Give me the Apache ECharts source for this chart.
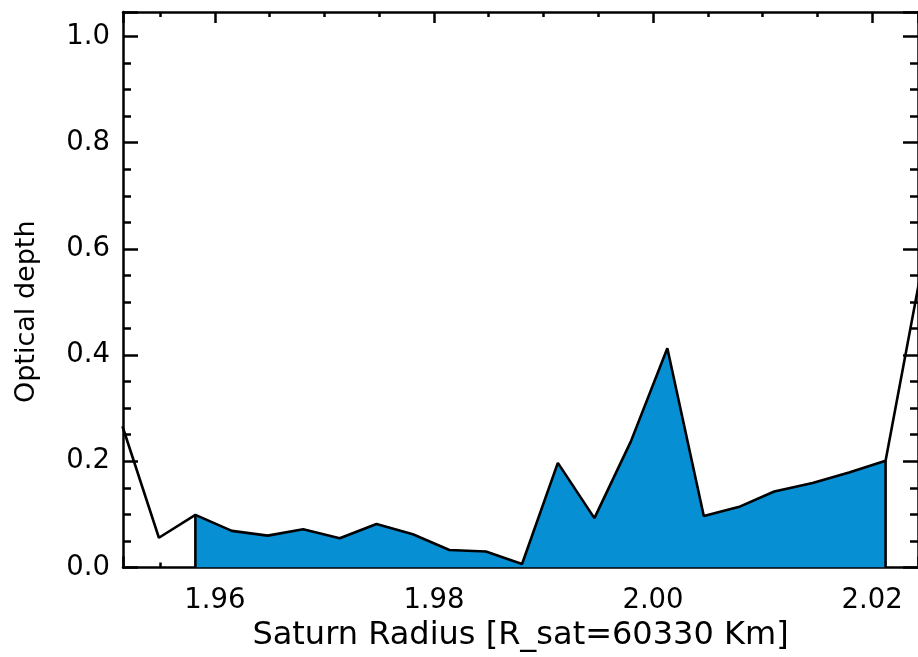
<!DOCTYPE html>
<html>
<head>
<meta charset="utf-8">
<script src="https://cdn.jsdelivr.net/npm/echarts@6/dist/echarts.min.js"></script>
<style>
html,body{margin:0;padding:0;background:#fff;}
#main{width:918px;height:657px;}
</style>
</head>
<body>
<div id="main"></div>
<script>
// radius values (Saturn radii)
var radius = [1.95155, 1.95488, 1.95821, 1.96154, 1.96481, 1.96805, 1.97139, 1.97475, 1.97807,
              1.98141, 1.98474, 1.98804, 1.99131, 1.99465, 1.99797, 2.00131, 2.00464, 2.00797,
              2.01107, 2.01457, 2.01790, 2.02124, 2.02456];
// optical depth
var depth = [0.266, 0.056, 0.099, 0.069, 0.060, 0.072, 0.055, 0.082, 0.0625,
             0.033, 0.030, 0.0066, 0.197, 0.093, 0.237, 0.413, 0.097, 0.115,
             0.143, 0.159, 0.179, 0.201, 0.566];
// shaded range (index of first and last filled point)
var fillStart = 2, fillEnd = 21;

var xTitle = 'Saturn Radius [R_sat=60330 Km]';
var yTitle = 'Optical depth';

var font = 'DejaVu Sans';

var lineData = radius.map(function(r, i){ return [r, depth[i]]; });
var fillData = lineData.slice(fillStart, fillEnd + 1);
var edgeData = [
    [radius[fillStart], 0], [radius[fillStart], depth[fillStart]], '-',
    [radius[fillEnd], 0], [radius[fillEnd], depth[fillEnd]]
];

function xAxisCfg(pos, labels){
    return {
        type:'value',
        position:pos,
        min:1.9516,
        max:2.0242,
        splitNumber:3,
        axisLine:{show:true,onZero:false,lineStyle:{color:'#000',width:2.5}},
        axisTick:{show:true,inside:true,length:11,lineStyle:{color:'#000',width:2.5}},
        minorTick:{show:true,splitNumber:4,length:5,lineStyle:{color:'#000',width:2.5}},
        splitLine:{show:false},
        axisLabel:{
            show:labels,
            showMinLabel:false,
            showMaxLabel:false,
            margin:19,
            color:'#000',
            fontFamily:font,
            fontSize:27.5,
            formatter:function(v){ return v.toFixed(2); }
        },
        name:labels ? xTitle : '',
        nameLocation:'middle',
        nameGap:46,
        nameTextStyle:{color:'#000',fontFamily:font,fontSize:32}
    };
}

function yAxisCfg(pos, labels){
    return {
        type:'value',
        position:pos,
        min:0,
        max:1.046,
        interval:0.2,
        axisLine:{show:true,onZero:false,lineStyle:{color:'#000',width:2.5}},
        axisTick:{show:true,inside:true,length:15,lineStyle:{color:'#000',width:2.5}},
        minorTick:{show:true,splitNumber:4,length:8,lineStyle:{color:'#000',width:2.5}},
        splitLine:{show:false},
        axisLabel:{
            show:labels,
            showMaxLabel:false,
            margin:13,
            color:'#000',
            fontFamily:font,
            fontSize:27.5,
            formatter:function(v){ return v.toFixed(1); }
        },
        name:labels ? yTitle : '',
        nameLocation:'middle',
        nameGap:83,
        nameRotate:90,
        nameTextStyle:{color:'#000',fontFamily:font,fontSize:27,padding:[0,44,0,0]}
    };
}

var chart = echarts.init(document.getElementById('main'));
chart.setOption({
    animation:false,
    backgroundColor:'#fff',
    grid:{left:123,top:12,right:-4,bottom:89.5,containLabel:false},
    xAxis:[xAxisCfg('bottom', true), xAxisCfg('top', false)],
    yAxis:[yAxisCfg('left', true), yAxisCfg('right', false)],
    series:[
        {
            type:'line',
            data:fillData,
            showSymbol:false,
            lineStyle:{width:0},
            areaStyle:{color:'#068fd3',opacity:1},
            z:1
        },
        {
            type:'line',
            data:edgeData,
            showSymbol:false,
            connectNulls:false,
            lineStyle:{color:'#000',width:2.6},
            z:2
        },
        {
            type:'line',
            data:lineData,
            showSymbol:false,
            clip:true,
            lineStyle:{color:'#000',width:2.6},
            z:3
        }
    ]
});
</script>
</body>
</html>
